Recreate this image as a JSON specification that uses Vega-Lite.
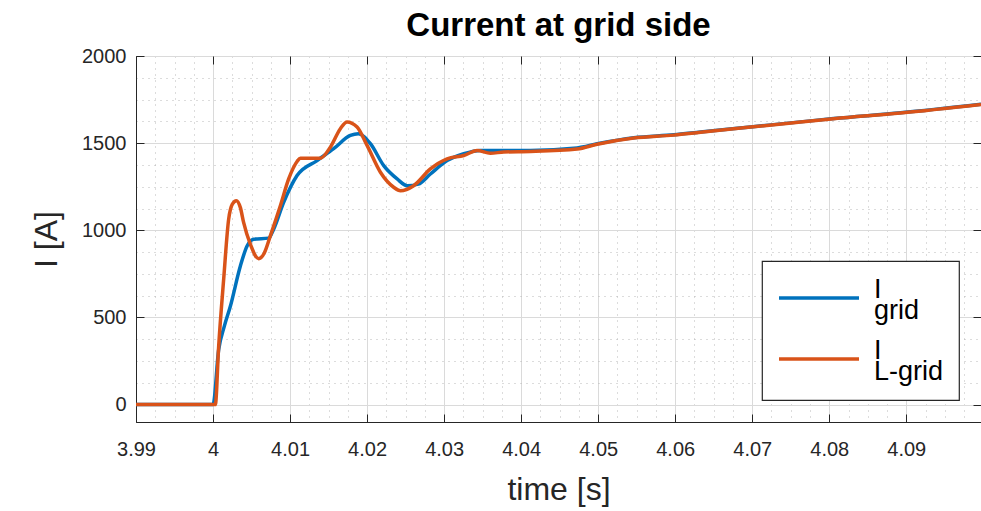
{
  "$schema": "https://vega.github.io/schema/vega-lite/v6.json",
  "width": 845,
  "height": 366,
  "autosize": {"type": "none"},
  "padding": {"left": 136, "top": 56, "right": 0, "bottom": 89},
  "title": {"text": "Current at grid side", "fontSize": 33, "fontWeight": "bold", "color": "#000000", "font": "Liberation Sans", "anchor": "middle", "frame": "group", "offset": 3},
  "data": {"values": [
    {"t": 3.99, "I": 0, "s": "grid"},
    {"t": 4.0, "I": 0, "s": "grid"},
    {"t": 4.00073, "I": 314, "s": "grid"},
    {"t": 4.00147, "I": 450, "s": "grid"},
    {"t": 4.00225, "I": 564, "s": "grid"},
    {"t": 4.00355, "I": 795, "s": "grid"},
    {"t": 4.00442, "I": 910, "s": "grid"},
    {"t": 4.00527, "I": 949, "s": "grid"},
    {"t": 4.00722, "I": 955, "s": "grid"},
    {"t": 4.00787, "I": 1006, "s": "grid"},
    {"t": 4.00917, "I": 1160, "s": "grid"},
    {"t": 4.01091, "I": 1314, "s": "grid"},
    {"t": 4.01351, "I": 1400, "s": "grid"},
    {"t": 4.01566, "I": 1468, "s": "grid"},
    {"t": 4.01783, "I": 1544, "s": "grid"},
    {"t": 4.01887, "I": 1554, "s": "grid"},
    {"t": 4.02043, "I": 1497, "s": "grid"},
    {"t": 4.02216, "I": 1371, "s": "grid"},
    {"t": 4.0239, "I": 1295, "s": "grid"},
    {"t": 4.0252, "I": 1256, "s": "grid"},
    {"t": 4.02666, "I": 1265, "s": "grid"},
    {"t": 4.02822, "I": 1323, "s": "grid"},
    {"t": 4.03039, "I": 1400, "s": "grid"},
    {"t": 4.03255, "I": 1439, "s": "grid"},
    {"t": 4.03471, "I": 1458, "s": "grid"},
    {"t": 4.04121, "I": 1458, "s": "grid"},
    {"t": 4.04727, "I": 1472, "s": "grid"},
    {"t": 4.04987, "I": 1496, "s": "grid"},
    {"t": 4.05462, "I": 1531, "s": "grid"},
    {"t": 4.05982, "I": 1548, "s": "grid"},
    {"t": 4.06329, "I": 1564, "s": "grid"},
    {"t": 4.06978, "I": 1593, "s": "grid"},
    {"t": 4.07627, "I": 1622, "s": "grid"},
    {"t": 4.08056, "I": 1641, "s": "grid"},
    {"t": 4.08926, "I": 1674, "s": "grid"},
    {"t": 4.0997, "I": 1723, "s": "grid"},
    {"t": 3.99, "I": 0, "s": "L-grid"},
    {"t": 4.0003, "I": 0, "s": "L-grid"},
    {"t": 4.00073, "I": 333, "s": "L-grid"},
    {"t": 4.00138, "I": 718, "s": "L-grid"},
    {"t": 4.00203, "I": 1064, "s": "L-grid"},
    {"t": 4.00251, "I": 1150, "s": "L-grid"},
    {"t": 4.00303, "I": 1170, "s": "L-grid"},
    {"t": 4.00355, "I": 1130, "s": "L-grid"},
    {"t": 4.00397, "I": 1045, "s": "L-grid"},
    {"t": 4.00484, "I": 920, "s": "L-grid"},
    {"t": 4.00592, "I": 837, "s": "L-grid"},
    {"t": 4.00666, "I": 870, "s": "L-grid"},
    {"t": 4.00744, "I": 968, "s": "L-grid"},
    {"t": 4.00874, "I": 1141, "s": "L-grid"},
    {"t": 4.00982, "I": 1295, "s": "L-grid"},
    {"t": 4.01091, "I": 1395, "s": "L-grid"},
    {"t": 4.01134, "I": 1414, "s": "L-grid"},
    {"t": 4.01394, "I": 1414, "s": "L-grid"},
    {"t": 4.01523, "I": 1477, "s": "L-grid"},
    {"t": 4.01653, "I": 1583, "s": "L-grid"},
    {"t": 4.0174, "I": 1622, "s": "L-grid"},
    {"t": 4.0187, "I": 1593, "s": "L-grid"},
    {"t": 4.02, "I": 1487, "s": "L-grid"},
    {"t": 4.02173, "I": 1333, "s": "L-grid"},
    {"t": 4.02345, "I": 1247, "s": "L-grid"},
    {"t": 4.02433, "I": 1227, "s": "L-grid"},
    {"t": 4.02605, "I": 1256, "s": "L-grid"},
    {"t": 4.02822, "I": 1352, "s": "L-grid"},
    {"t": 4.03039, "I": 1410, "s": "L-grid"},
    {"t": 4.03255, "I": 1429, "s": "L-grid"},
    {"t": 4.03429, "I": 1458, "s": "L-grid"},
    {"t": 4.03601, "I": 1442, "s": "L-grid"},
    {"t": 4.03774, "I": 1449, "s": "L-grid"},
    {"t": 4.04121, "I": 1452, "s": "L-grid"},
    {"t": 4.04727, "I": 1466, "s": "L-grid"},
    {"t": 4.04987, "I": 1494, "s": "L-grid"},
    {"t": 4.05462, "I": 1529, "s": "L-grid"},
    {"t": 4.05982, "I": 1546, "s": "L-grid"},
    {"t": 4.06329, "I": 1562, "s": "L-grid"},
    {"t": 4.06978, "I": 1592, "s": "L-grid"},
    {"t": 4.07627, "I": 1621, "s": "L-grid"},
    {"t": 4.08056, "I": 1640, "s": "L-grid"},
    {"t": 4.08926, "I": 1673, "s": "L-grid"},
    {"t": 4.0997, "I": 1722, "s": "L-grid"}
  ]},
  "layer": [
    {
      "transform": [{"filter": "datum.s == 'grid'"}],
      "mark": {"type": "line", "strokeWidth": 3.5, "interpolate": "monotone"},
      "encoding": {
        "x": {"field": "t", "type": "quantitative",
          "scale": {"domain": [3.99, 4.0997], "nice": false, "zero": false},
          "axis": {
            "title": "time [s]",
            "values": [3.99,3.9925,3.995,3.9975,4,4.0025,4.005,4.0075,4.01,4.0125,4.015,4.0175,4.02,4.0225,4.025,4.0275,4.03,4.0325,4.035,4.0375,4.04,4.0425,4.045,4.0475,4.05,4.0525,4.055,4.0575,4.06,4.0625,4.065,4.0675,4.07,4.0725,4.075,4.0775,4.08,4.0825,4.085,4.0875,4.09,4.0925,4.095,4.0975],
            "format": "~g",
            "labelExpr": "abs(datum.value*100 - round(datum.value*100)) < 0.001 ? datum.label : ''",
            "labelOverlap": false,
            "labelFlush": false,
            "grid": true,
            "gridColor": {"condition": {"test": "abs(datum.value*100 - round(datum.value*100)) < 0.001", "value": "#dadada"}, "value": "#b8b8b8"},
            "gridDash": {"condition": {"test": "abs(datum.value*100 - round(datum.value*100)) < 0.001", "value": []}, "value": [1, 5]},
            "tickOpacity": {"condition": {"test": "abs(datum.value*100 - round(datum.value*100)) < 0.001", "value": 1}, "value": 0},
            "labelPadding": 25,
            "titlePadding": 15
          }
        },
        "y": {"field": "I", "type": "quantitative",
          "scale": {"domain": [-100, 2000], "nice": false, "zero": false},
          "axis": {
            "title": "I [A]",
            "values": [0,125,250,375,500,625,750,875,1000,1125,1250,1375,1500,1625,1750,1875,2000],
            "format": "d",
            "labelExpr": "datum.value % 500 == 0 ? datum.label : ''",
            "labelOverlap": false,
            "labelFlush": false,
            "grid": true,
            "gridColor": {"condition": {"test": "datum.value % 500 == 0", "value": "#dadada"}, "value": "#b8b8b8"},
            "gridDash": {"condition": {"test": "datum.value % 500 == 0", "value": []}, "value": [1, 5]},
            "tickOpacity": {"condition": {"test": "datum.value % 500 == 0", "value": 1}, "value": 0},
            "labelPadding": 18,
            "titlePadding": 18
          }
        },
        "color": {"field": "s", "type": "nominal",
          "scale": {"domain": ["grid", "L-grid"], "range": ["#0072BD", "#D95319"]},
          "legend": {"labelExpr": "datum.label == 'grid' ? ['I', 'grid'] : ['I', 'L-grid']"}
        }
      }
    },
    {
      "transform": [{"filter": "datum.s == 'L-grid'"}],
      "mark": {"type": "line", "strokeWidth": 3.5, "interpolate": "monotone"},
      "encoding": {
        "x": {"field": "t", "type": "quantitative",
          "axis": {"orient": "top", "title": null, "labels": false, "grid": false, "domain": false, "minExtent": 0, "maxExtent": 0, "values": [3.99,4,4.01,4.02,4.03,4.04,4.05,4.06,4.07,4.08,4.09]}
        },
        "y": {"field": "I", "type": "quantitative",
          "axis": {"orient": "right", "title": null, "labels": false, "grid": false, "domain": false, "minExtent": 0, "maxExtent": 0, "values": [0,500,1000,1500,2000]}
        },
        "color": {"field": "s", "type": "nominal",
          "legend": {"labelExpr": "datum.label == 'grid' ? ['I', 'grid'] : ['I', 'L-grid']"}
        }
      }
    }
  ],
  "resolve": {"axis": {"x": "independent", "y": "independent"}},
  "config": {
    "font": "Liberation Sans",
    "view": {"stroke": "#262626", "strokeWidth": 1},
    "style": {"guide-label": {"lineHeight": 21}},
    "axis": {
      "domainColor": "#262626",
      "tickColor": "#262626",
      "tickSize": -8,
      "labelColor": "#262626",
      "titleColor": "#262626",
      "labelFont": "Liberation Sans",
      "titleFont": "Liberation Sans",
      "labelFontSize": 20,
      "titleFontSize": 32,
      "titleFontWeight": "normal"
    },
    "legend": {
      "orient": "bottom-right",
      "offset": 22,
      "title": null,
      "padding": 15,
      "strokeColor": "#262626",
      "strokeWidth": 1.2,
      "fillColor": "#ffffff",
      "symbolType": "M-1,0H3",
      "symbolSize": 1600,
      "symbolStrokeWidth": 3.5,
      "symbolFillColor": "transparent",
      "labelFont": "Liberation Sans",
      "labelFontSize": 27,
      "labelColor": "#000000",
      "labelOffset": 53,
      "labelBaseline": "alphabetic",
      "labelLimit": 0,
      "rowPadding": 13
    }
  }
}
